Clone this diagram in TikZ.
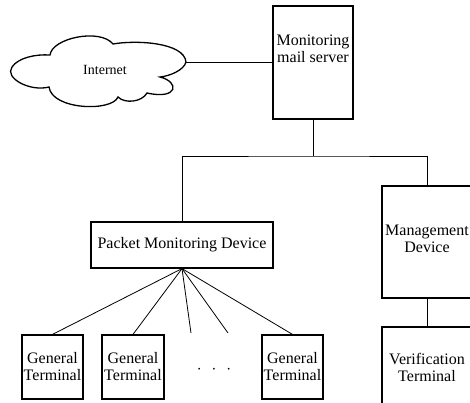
\documentclass[tikz,border=0pt]{standalone}
\usepackage{fontspec}
\setmainfont{Liberation Serif}
\usetikzlibrary{positioning}
\tikzset{
	box/.style={draw, line width=1.2pt, inner sep=0pt, align=center, font=\fontsize{16}{17}\selectfont},
	lbl/.style={inner sep=0pt, align=center, font=\fontsize{16}{17}\selectfont},
	wire/.style={line width=0.8pt}
}
\begin{document}
\begin{tikzpicture}[x=1pt,y=-1pt]
		%%%%% START %%%%%
		\useasboundingbox (0,0) rectangle (470,403);
		\clip (0,0) rectangle (470,403);
		
		% internet cloud
		\draw[line width=1.3pt] (12,67) .. controls (18,58) and (35,54) .. (50,55)
			.. controls (52,38) and (100,28) .. (113,44)
			.. controls (135,40) and (184,42) .. (186,62)
			.. controls (184,70) and (170,76) .. (160,77)
			.. controls (180,82) and (178,100) .. (147,93)
			.. controls (142,102) and (125,104) .. (118,97)
			.. controls (112,112) and (52,110) .. (49,87)
			.. controls (30,92) and (4,78) .. (12,67) -- cycle;
		\coordinate (inet) at (186,62);
		\node[lbl, font=\fontsize{14}{16}\selectfont] (inettext) at (105,70) {Internet};
		
		% servers and devices
		\node[box, minimum width=80, minimum height=113] (mail) at (313,62.5) {};
		\node[lbl, below=29pt of mail.north] (maillbl) {Monitoring\\mail server};
		\node[box, minimum width=182, minimum height=46] (pmd) at (182,245) {Packet Monitoring Device};
		\node[box, minimum width=90, minimum height=112] (mgmt) at (427,242) {};
		\node[lbl, below=39pt of mgmt.north] (mgmtlbl) {Management\\Device};
		\node[box, minimum width=90, minimum height=80] (verif) at (427,367) {Verification\\Terminal};
		
		% terminals
		\node[box, minimum width=61, minimum height=64] (gt1) at (52.5,367) {General\\Terminal};
		\node[box, minimum width=62, minimum height=64] (gt2) at (133,367) {General\\Terminal};
		\node[box, minimum width=61, minimum height=64] (gt3) at (292.5,367) {General\\Terminal};
		\node[lbl] (dots) at (214,370) {$\cdot$\hspace{10pt}$\cdot$\hspace{10pt}$\cdot$};
		
		% links
		\draw[wire] (inet) -- (inet -| mail.west);
		\coordinate (split) at (313,156);
		\draw[wire] (mail.south) -- (split);
		\draw[wire] (pmd.north) |- (split) -| (mgmt.north);
		\draw[wire] (mgmt.south) -- (verif.north);
		\coordinate (d1) at (191,333);
		\coordinate (d2) at (228,333);
		\foreach \t in {gt1.north,gt2.north,d1,d2,gt3.north}
			\draw[wire] (pmd.south) -- (\t);
		
		%%%%% END %%%%%
\end{tikzpicture}
\end{document}
